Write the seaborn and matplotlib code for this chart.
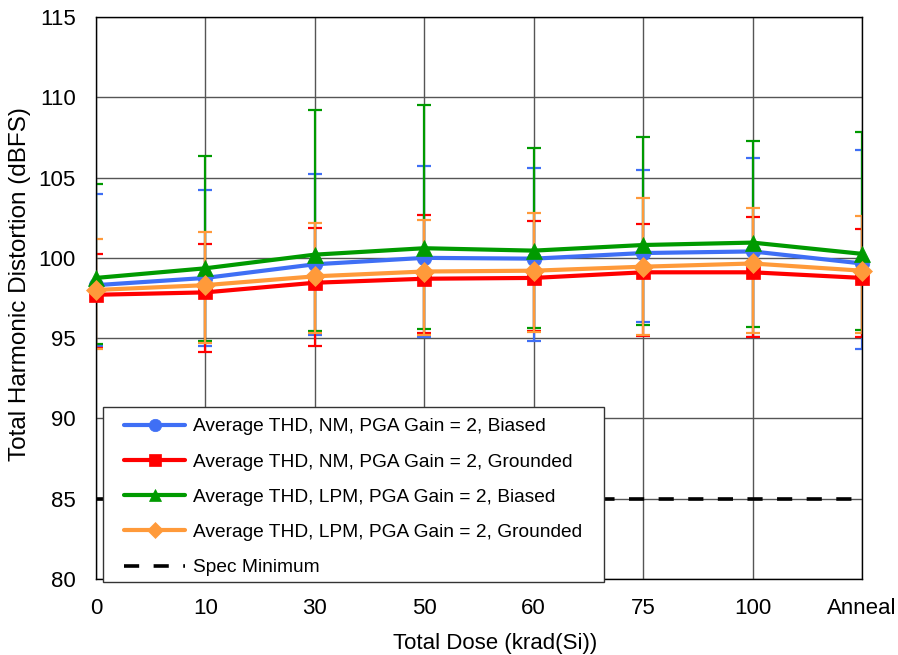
import numpy as np
import pandas as pd
import matplotlib
matplotlib.use("Agg")
import matplotlib.pyplot as plt
from matplotlib.patches import Rectangle
import seaborn as sns

# ---------------- data ----------------
doses = ['0', '10', '30', '50', '60', '75', '100', 'Anneal']

nm_biased      = [98.30, 98.75, 99.60, 100.00, 99.95, 100.30, 100.40, 99.65]
nm_biased_hi   = [104.00, 104.20, 105.20, 105.70, 105.60, 105.50, 106.20, 106.70]
nm_biased_lo   = [94.50, 94.50, 95.20, 95.05, 94.85, 96.00, 95.10, 94.35]

nm_grounded    = [97.70, 97.85, 98.45, 98.70, 98.75, 99.10, 99.10, 98.75]
nm_grounded_hi = [100.25, 100.85, 101.85, 102.70, 102.30, 102.10, 102.55, 101.80]
nm_grounded_lo = [94.40, 94.15, 94.50, 95.30, 95.45, 95.15, 95.05, 95.10]

lpm_biased     = [98.75, 99.35, 100.20, 100.60, 100.45, 100.80, 100.95, 100.25]
lpm_biased_hi  = [104.60, 106.35, 109.20, 109.50, 106.85, 107.50, 107.30, 107.85]
lpm_biased_lo  = [94.65, 94.80, 95.45, 95.55, 95.65, 95.80, 95.70, 95.50]

lpm_grounded    = [98.00, 98.30, 98.85, 99.15, 99.20, 99.45, 99.65, 99.20]
lpm_grounded_hi = [101.20, 101.60, 102.20, 102.35, 102.80, 103.70, 103.10, 102.60]
lpm_grounded_lo = [94.30, 94.70, 95.35, 95.20, 95.40, 95.20, 95.30, 95.35]

spec_min = [85, 85, 85, 85, 85, 85, 85, 85]

labels = ['Average THD, NM, PGA Gain = 2, Biased',
          'Average THD, NM, PGA Gain = 2, Grounded',
          'Average THD, LPM, PGA Gain = 2, Biased',
          'Average THD, LPM, PGA Gain = 2, Grounded']
spec_label = 'Spec Minimum'

yticks = [80, 85, 90, 95, 100, 105, 110, 115]

# ---------------- style ----------------
sns.set_theme(style="white")
plt.rcParams['font.family'] = ['Liberation Sans', 'DejaVu Sans']
plt.rcParams['text.color'] = 'black'
FS = 16
LFS = 13.8

colors = ['#3F6FF5', '#FF0000', '#009A00', '#FF9A3A']
markers = ['o', 's', '^', 'D']
msizes = [10.5, 10, 11, 10]

W, H = 898, 655
fig = plt.figure(figsize=(W/100, H/100), dpi=100)
ax = fig.add_axes([96/W, 1-579/H, (862-96)/W, (579-17)/H])

pos = np.arange(len(doses))
series = [
    (nm_biased, nm_biased_lo, nm_biased_hi),
    (nm_grounded, nm_grounded_lo, nm_grounded_hi),
    (lpm_biased, lpm_biased_lo, lpm_biased_hi),
    (lpm_grounded, lpm_grounded_lo, lpm_grounded_hi),
]

# error bars (clipped at the plot edges)
for (m, lo, hi), c in zip(series, colors):
    m = np.array(m); lo = np.array(lo); hi = np.array(hi)
    ax.errorbar(pos, m, yerr=[m - lo, hi - m], fmt='none', ecolor=c,
                elinewidth=1.6, capsize=4.8, capthick=1.6, zorder=2)

# spec line
sns.lineplot(x=pos, y=spec_min, ax=ax, color='black', lw=2.6,
             linestyle=(0, (4.2, 4.0)), label=spec_label, zorder=2.5)

for (m, lo, hi), c, mk, ms, lab in zip(series, colors, markers, msizes, labels):
    sns.lineplot(x=pos, y=m, ax=ax, color=c, lw=3, marker=mk, markersize=ms,
                 markeredgecolor=c, markeredgewidth=0.5, label=lab,
                 zorder=3, clip_on=False)

ax.set_xlim(0, len(doses) - 1)
ax.set_ylim(80, 115)
ax.set_xticks(pos)
ax.set_xticklabels(doses)
ax.set_yticks(yticks)
ax.tick_params(axis='both', length=0, labelsize=FS, colors='black')
ax.tick_params(axis='y', pad=14.5)
ax.tick_params(axis='x', pad=13.5)
ax.grid(True, color='#555555', lw=1.0)
ax.set_axisbelow(True)
for s in ax.spines.values():
    s.set_visible(True)
    s.set_color('black')
    s.set_linewidth(1.0)

ax.set_xlabel('Total Dose (krad(Si))', fontsize=FS, color='black')
ax.set_ylabel('Total Harmonic Distortion (dBFS)', fontsize=17.5, color='black')
ax.xaxis.set_label_coords((495-96)/766, (579-633)/562)
ax.yaxis.set_label_coords((31-96)/766, (579-284)/562)

# legend box (drawn as a separate frame to get the wider side padding)
box = Rectangle((103/W, 1-582/H), (604-103)/W, (582-407)/H,
                transform=fig.transFigure, facecolor='white',
                edgecolor='#333333', lw=1.0, zorder=4.5)
ax.add_patch(box)
box.set_clip_on(False)

h, l = ax.get_legend_handles_labels()
order = [l.index(x) for x in labels + [spec_label]]
leg = ax.legend([h[i] for i in order], [l[i] for i in order],
                loc='upper left', bbox_to_anchor=(124/W, 1-418/H),
                bbox_transform=fig.transFigure, fontsize=LFS,
                frameon=False, handlelength=3.2, handletextpad=0.4,
                labelspacing=0.93, borderpad=0.0, borderaxespad=0,
                markerscale=0.85, labelcolor='black')
leg.set_zorder(5)

fig.savefig('out.png', dpi=100)
